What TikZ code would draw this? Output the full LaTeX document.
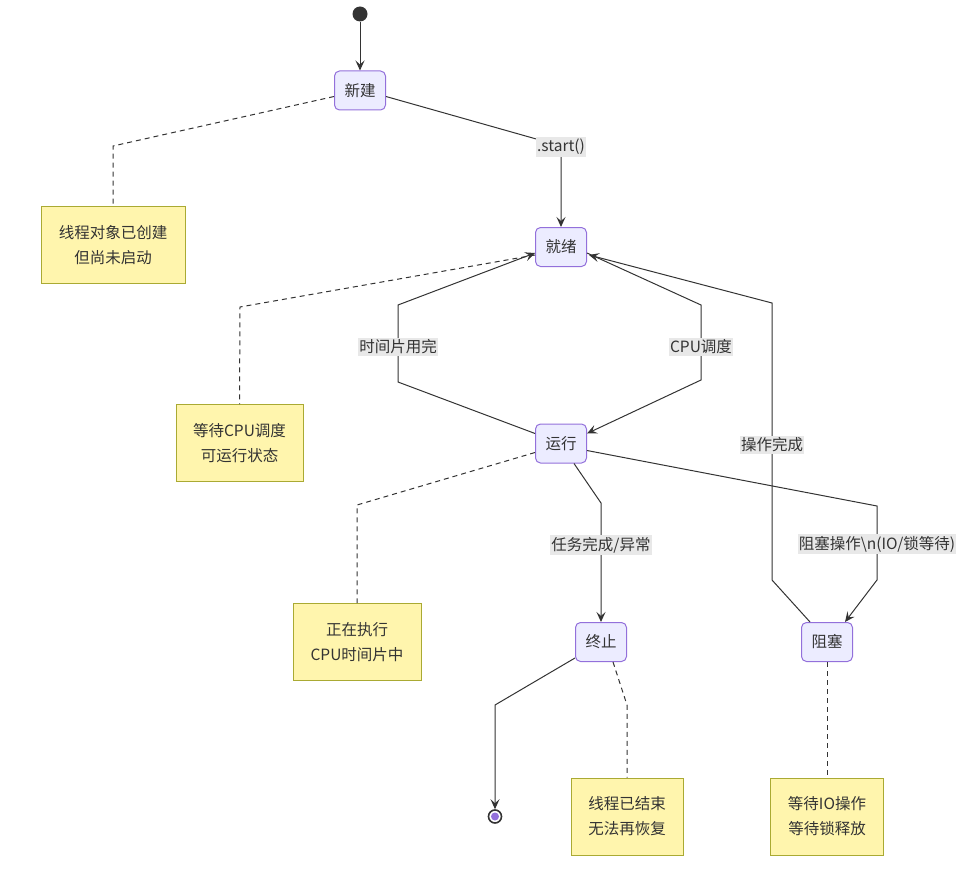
\documentclass[tikz,border=0pt]{standalone}
\usepackage{fontspec}
\setmainfont{Noto Sans CJK SC}
\usetikzlibrary{arrows.meta,calc}
\definecolor{stfill}{HTML}{ECECFF}
\definecolor{ststroke}{HTML}{9370DB}
\definecolor{ntfill}{HTML}{FFF5AD}
\definecolor{ntstroke}{HTML}{AAAA33}
\definecolor{ln}{HTML}{333333}
\definecolor{lbl}{HTML}{E8E8E8}
\begin{document}
\begin{tikzpicture}[x=1pt,y=-1pt,
  font=\fontsize{15.5}{25}\selectfont, text=ln,
  stbox/.style={draw=ststroke, fill=stfill, rounded corners=5pt, minimum width=51pt, minimum height=39pt, inner sep=0pt, line width=1pt},
  notebox/.style={draw=ntstroke, fill=ntfill, minimum height=77pt, inner xsep=4pt, align=center, line width=1pt},
  tr/.style={draw=ln, line width=1pt, -{Stealth[length=10pt,width=9pt,inset=4pt]}},
  link/.style={draw=ln, line width=1pt, dash pattern=on 5pt off 4pt},
  elabel/.style={fill=lbl, inner xsep=1pt, inner ysep=2pt}]
\useasboundingbox (0,0) rectangle (964,888);
% states
\node[circle, fill=ln, minimum size=15pt, inner sep=0pt] (start) at (360,14) {};
\node[stbox] (new) at (360,90.5) {新建};
\node[stbox] (ready) at (561,247) {就绪};
\node[stbox] (run) at (561,443.5) {运行};
\node[stbox] (term) at (601,642) {终止};
\node[stbox] (block) at (827,642) {阻塞};
\node[circle, draw=ln, line width=1.6pt, fill=white, minimum size=13pt, inner sep=0pt] (end) at (495,816.5) {};
\fill[ststroke] (end.center) circle (4pt);
% notes
\node[notebox, minimum width=144pt] (n1) at (113,245) {线程对象已创建\\但尚未启动};
\node[notebox, minimum width=127pt] (n2) at (239.5,443) {等待CPU调度\\可运行状态};
\node[notebox, minimum width=128pt] (n3) at (357,642) {正在执行\\CPU时间片中};
\node[notebox, minimum width=112pt] (n4) at (627,816.5) {线程已结束\\无法再恢复};
\node[notebox, minimum width=113pt] (n5) at (827,816.5) {等待IO操作\\等待锁释放};
% bend points
\coordinate (b1) at (561,146);
\coordinate (b2a) at (398,382); \coordinate (b2b) at (398,305);
\coordinate (b3a) at (701,305); \coordinate (b3b) at (701,380);
\coordinate (b4) at (601,503);
\coordinate (b5a) at (877,506); \coordinate (b5b) at (877,580);
\coordinate (b6a) at (772,580); \coordinate (b6b) at (772,303);
\coordinate (b7) at (495,705);
\coordinate (d1) at (113,146);
\coordinate (d2) at (240,307);
\coordinate (d3) at (357,505);
\coordinate (d4) at (627,705);
% transitions
\draw[tr] (start) -- (new);
\draw[tr] ($(new.east)+(0,6)$) -- (b1) -- (ready);
\draw[tr] ($(run.west)+(0,-10)$) -- (b2a) -- (b2b) -- ($(ready.west)+(0,6)$);
\draw[tr] ($(ready.east)+(0,6)$) -- (b3a) -- (b3b) -- ($(run.east)+(0,-10)$);
\draw[tr] ($(run.south)+(13,0)$) -- (b4) -- (term);
\draw[tr] ($(run.east)+(0,7)$) -- (b5a) -- (b5b) -- ($(block.north east)+(-8,0)$);
\draw[tr] ($(block.north west)+(9,0)$) -- (b6a) -- (b6b) -- ($(ready.east)+(2,8)$);
\draw[tr] ($(term.south west)+(0,-4)$) -- (b7) -- (end);
% note links
\draw[link] ($(new.west)+(0,6)$) -- (d1) -- (n1.north);
\draw[link] ($(ready.west)+(0,8)$) -- (d2) -- (n2.north);
\draw[link] ($(run.west)+(0,9)$) -- (d3) -- (n3.north);
\draw[link] ($(term.south)+(12,0)$) -- (d4) -- (n4.north);
\draw[link] (block) -- (n5);
% labels
\node[elabel] (l1) at (561,147) {.start()};
\node[elabel] (l2) at (398,347) {时间片用完};
\node[elabel] (l3) at (701,347) {CPU调度};
\node[elabel] (l4) at (601,545) {任务完成/异常};
\node[elabel] (l5) at (877,544) {阻塞操作\textbackslash n(IO/锁等待)};
\node[elabel] (l6) at (772,445) {操作完成};
\end{tikzpicture}
\end{document}
